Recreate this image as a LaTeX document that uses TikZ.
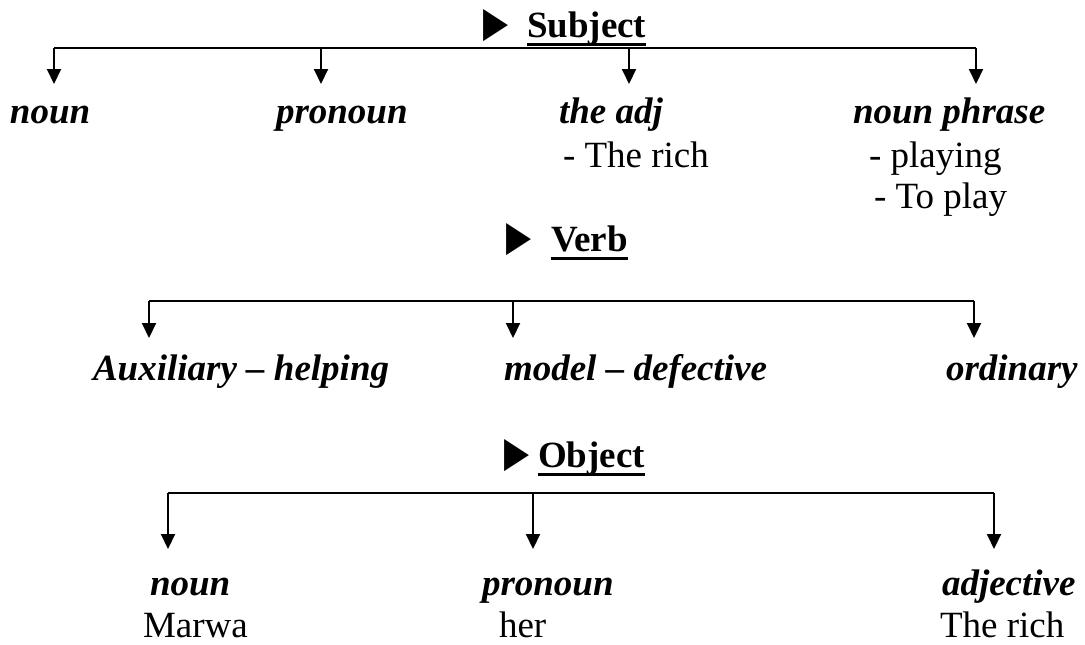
\documentclass[tikz,border=0pt]{standalone}
\usepackage{fontspec}
\setmainfont{Liberation Serif}
\newfontfamily\symb{DejaVu Sans}
\usetikzlibrary{positioning,arrows.meta}
\newsavebox{\wordbox}
\newcommand{\headword}[1]{\sbox{\wordbox}{#1}\rlap{\rule[-4.4pt]{\wd\wordbox}{1.4pt}}\usebox{\wordbox}}
\newcommand{\pointer}{\raisebox{0.5pt}{\resizebox{12.5pt}{13.5pt}{\symb ▶}}}

\begin{document}
\begin{tikzpicture}[%
		x=0.5pt, y=-0.5pt,
		line width=1pt,
		>={Triangle[width=7pt,length=7.5pt]},
		head/.style={%
			font=\fontsize{18.5}{22}\selectfont\bfseries,
			inner sep=0pt,
			anchor=base west
		},
		kind/.style={%
			font=\fontsize{18.5}{22}\selectfont\bfseries\itshape,
			inner xsep=0pt,
			inner ysep=6pt,
			text height=13pt,
			text depth=4pt,
			anchor=base west
		},
		example/.style={%
			font=\fontsize{18.5}{22}\selectfont,
			inner sep=0pt,
			anchor=base west
		}
		]
		\useasboundingbox (0,0) rectangle (1085,644);

		\node[head] (subject) at (482,37)  {\pointer\hspace{9.5pt}\headword{Subject}};
		\node[kind] (snoun)   at (9,123)   {noun};
		\node[kind] (spron)   at (275,123) {pronoun};
		\node[kind] (sadj)    at (558,123) {the adj};
		\node[kind] (sphrase) at (852,123) {noun phrase};
		\node[example] (srich)    [below=22pt of sadj.base west, anchor=base west, xshift=2pt]      {- The rich};
		\node[example] (splaying) [below=22pt of sphrase.base west, anchor=base west, xshift=8pt]   {- playing};
		\node[example] (stoplay)  [below=20.5pt of splaying.base west, anchor=base west, xshift=2.5pt] {- To play};

		\node[head] (verb)    at (505,251) {\pointer\hspace{10pt}\headword{Verb}};
		\node[kind] (vaux)    at (92,380)  {Auxiliary -- helping};
		\node[kind] (vmodel)  at (503,380) {model -- defective};
		\node[kind] (vord)    at (945,380) {ordinary};

		\node[head] (object)  at (503,467) {\pointer\hspace{4.5pt}\headword{Object}};
		\node[kind] (onoun)   at (149,595) {noun};
		\node[kind] (opron)   at (481,595) {pronoun};
		\node[kind] (oadj)    at (941,595) {adjective};
		\node[example] (omarwa) [below=21pt of onoun.base west, anchor=base west, xshift=-3.5pt] {Marwa};
		\node[example] (oher)   [below=21pt of opron.base west, anchor=base west, xshift=8.5pt]  {her};
		\node[example] (orich)  [below=21pt of oadj.base west, anchor=base west, xshift=-1pt]    {The rich};

		\coordinate (s1) at (54,48);
		\coordinate (s2) at (321,48);
		\coordinate (s3) at (629,48);
		\coordinate (s4) at (976,48);
		\coordinate (v1) at (149,301);
		\coordinate (v2) at (513,301);
		\coordinate (v3) at (974,301);
		\coordinate (o1) at (168,493);
		\coordinate (o2) at (533,493);
		\coordinate (o3) at (994,493);

		\draw (s1) -- (s4);
		\draw (v1) -- (v3);
		\draw (o1) -- (o3);
		\foreach \a/\b in {s1/snoun, s2/spron, s3/sadj, s4/sphrase}
			\draw[->] (\a) -- (\a |- \b.north);
		\foreach \a/\b in {v1/vaux, v2/vmodel, v3/vord}
			\draw[->, shorten >=1.5pt] (\a) -- (\a |- \b.north);
		\foreach \a/\b in {o1/onoun, o2/opron, o3/oadj}
			\draw[->, shorten >=3.5pt] (\a) -- (\a |- \b.north);
\end{tikzpicture}
\end{document}
